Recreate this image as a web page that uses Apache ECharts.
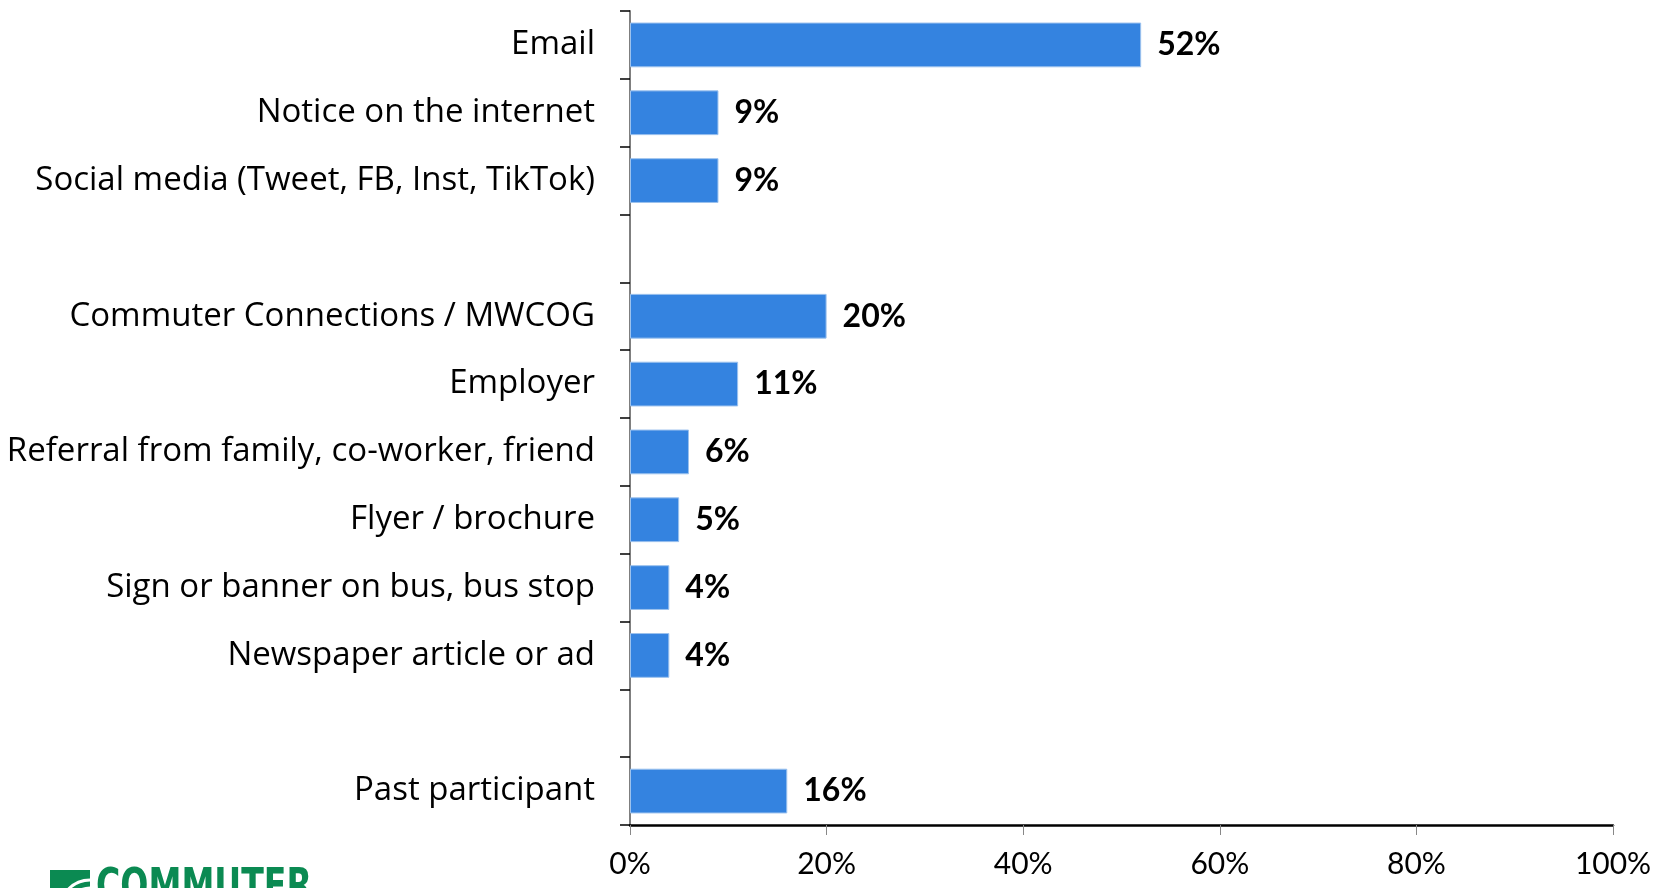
<!DOCTYPE html>
<html>
<head>
<meta charset="utf-8">
<script src="https://cdn.jsdelivr.net/npm/echarts@6/dist/echarts.min.js"></script>
<style>
  html, body { margin: 0; padding: 0; background: #fff; }
  #chart { width: 1667px; height: 888px; }
</style>
</head>
<body>
<div id="chart"></div>
<script>
// categories, top to bottom (blank rows are gaps between groups)
var categories = [
  "Email",
  "Notice on the internet",
  "Social media (Tweet, FB, Inst, TikTok)",
  " ",
  "Commuter Connections / MWCOG",
  "Employer",
  "Referral from family, co-worker, friend",
  "Flyer / brochure",
  "Sign or banner on bus, bus stop",
  "Newspaper article or ad",
  "  ",
  "Past participant"
];
// percent of respondents
var values = [52, 9, 9, null, 20, 11, 6, 5, 4, 4, null, 16];
var xTicks = [0, 20, 40, 60, 80, 100];

var font = "Lato, 'Open Sans', sans-serif";
var catFont = "'Open Sans', sans-serif";
var myChart = echarts.init(document.getElementById("chart"));

var option = {
  animation: false,
  grid: { left: 630, right: 54, top: 11, bottom: 63 },
  xAxis: {
    type: "value",
    min: xTicks[0],
    max: xTicks[xTicks.length - 1],
    interval: 20,
    axisLine: { show: true, lineStyle: { color: "#000", width: 2.5 } },
    axisTick: { show: true, length: 10, lineStyle: { color: "#888", width: 1 } },
    splitLine: { show: false },
    axisLabel: {
      formatter: "{value}%",
      fontFamily: font,
      fontSize: 30,
      color: "#000",
      margin: 24
    }
  },
  yAxis: {
    type: "category",
    inverse: true,
    data: categories,
    axisLine: { show: true, lineStyle: { color: "#7f7f7f", width: 2 } },
    axisTick: { show: true, length: 10, lineStyle: { color: "#000", width: 1.5 } },
    axisLabel: {
      fontFamily: catFont,
      fontSize: 33,
      color: "#000",
      margin: 35,
      padding: [4, 0, 0, 0]
    }
  },
  series: [
    {
      type: "bar",
      data: values,
      barCategoryGap: "34%",
      itemStyle: { color: "#3483E0", borderColor: "#9cc2ee", borderWidth: 1 },
      label: {
        show: true,
        position: "right",
        distance: 16,
        formatter: "{c}%",
        fontFamily: font,
        fontWeight: "bold",
        fontSize: 32,
        color: "#000",
        padding: [3, 0, 0, 0]
      }
    }
  ],
  graphic: [
    {
      type: "group",
      left: 50,
      top: 866,
      children: [
        { type: "rect", shape: { x: 0, y: 0, width: 40, height: 40 }, style: { fill: "#0b8a52" } },
        { type: "arc", shape: { cx: 40, cy: 40, r: 14, startAngle: Math.PI, endAngle: Math.PI * 1.5 }, style: { stroke: "#fff", lineWidth: 3, fill: null } },
        { type: "arc", shape: { cx: 40, cy: 40, r: 22, startAngle: Math.PI, endAngle: Math.PI * 1.5 }, style: { stroke: "#fff", lineWidth: 3, fill: null } },
        { type: "arc", shape: { cx: 40, cy: 40, r: 30, startAngle: Math.PI, endAngle: Math.PI * 1.5 }, style: { stroke: "#fff", lineWidth: 3, fill: null } },
        {
          type: "text",
          x: 46,
          y: -4,
          scaleX: 0.8,
          style: {
            text: "COMMUTER",
            fill: "#0b8a52",
            font: "bold 46px 'DejaVu Sans Condensed', sans-serif"
          }
        }
      ]
    }
  ]
};
myChart.setOption(option);
</script>
</body>
</html>
